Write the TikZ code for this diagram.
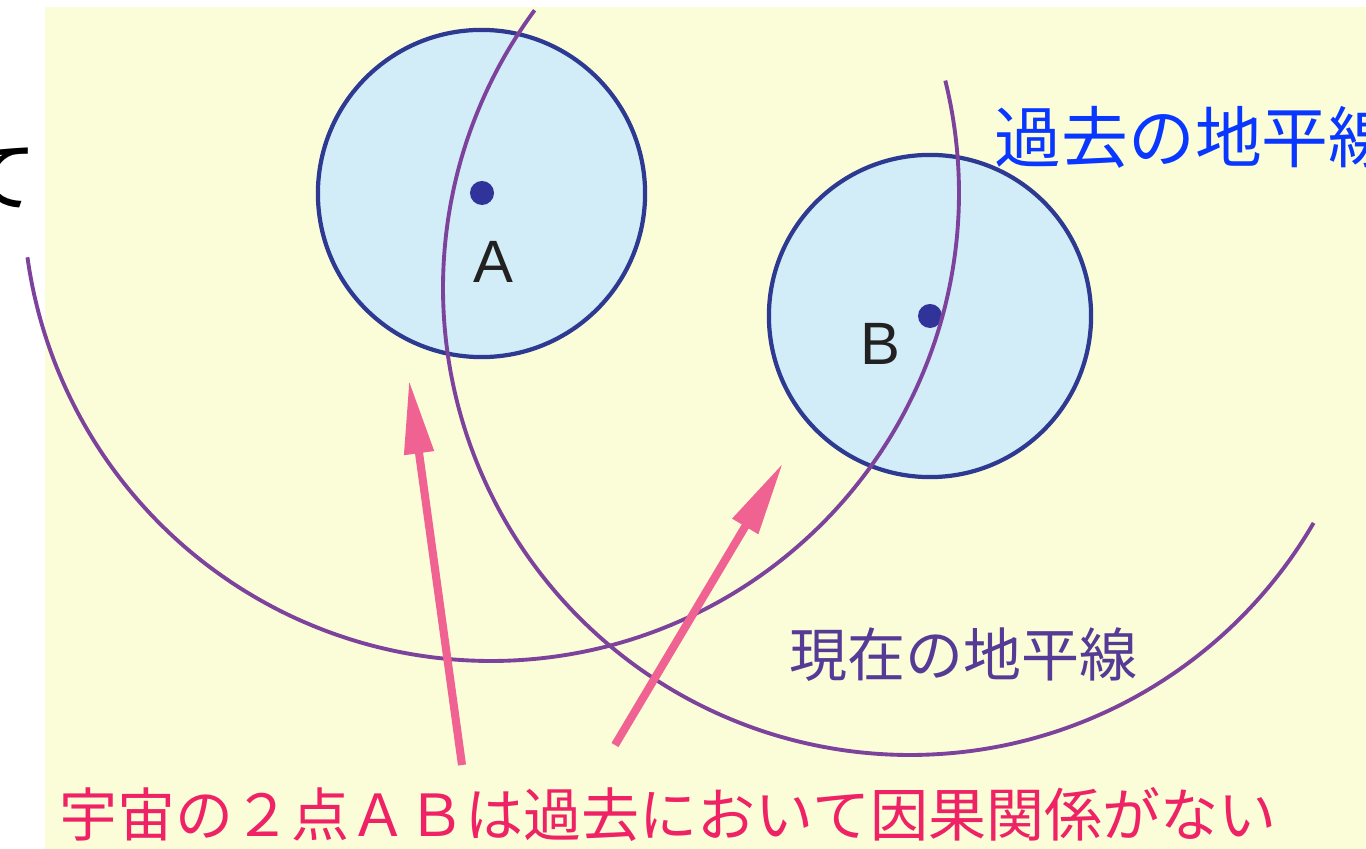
\documentclass[tikz,border=0pt]{standalone}
\usepackage{fontspec}
\setmainfont{Liberation Sans}
\newfontfamily\jfont{Noto Sans CJK JP}
\usetikzlibrary{arrows.meta}
\definecolor{bgyellow}{HTML}{FAFDD8}
\definecolor{cfill}{HTML}{D2ECF8}
\definecolor{cstroke}{HTML}{2E3A91}
\definecolor{dotblue}{HTML}{30349A}
\definecolor{arcpurple}{HTML}{7D429B}
\definecolor{arrowpink}{HTML}{F06291}
\definecolor{pastblue}{HTML}{0A37FF}
\definecolor{nowpurple}{HTML}{553A96}
\definecolor{msgred}{HTML}{EE2264}
\tikzset{
  region/.style={draw=cstroke, fill=cfill, line width=1.2pt},
  horizon/.style={draw=arcpurple, line width=1.1pt},
  pdot/.style={circle, fill=dotblue, inner sep=0pt, minimum size=0.24cm},
  plabel/.style={inner sep=0pt, text=black!87, font=\fontsize{17}{20}\selectfont},
  causal/.style={draw=arrowpink, line width=2.3pt, -{Triangle[length=21pt,width=8pt]}},
  jtext/.style={inner sep=0pt, font=\jfont\fontsize{16.5}{20}\selectfont}
}
\begin{document}
\begin{tikzpicture}[x=0.01cm, y=-0.01cm]
\useasboundingbox (0,0) rectangle (1366,849);
\fill[bgyellow] (45,7) rectangle (1366,849);
% partial character at the left edge
\node[inner sep=0pt, anchor=east, font=\jfont\fontsize{22.5}{26}\selectfont] (cut) at (38,178) {て};
% light cones
\draw[region] (481.5,193.5) circle[radius=1.635cm];
\draw[region] (930,316) circle[radius=1.61cm];
\node[pdot] (dotA) at (482,193) {};
\node[pdot] (dotB) at (930,316) {};
\node[plabel] (labA) at (493,262) {A};
\node[plabel] (labB) at (880,344) {B};
% horizons
\draw[horizon] plot[domain=187.9:373.9, samples=200, smooth] ({491+468*cos(\x)}, {193-468*sin(\x)});
\draw[horizon] plot[domain=143.5:329.8, samples=200, smooth] ({910+467*cos(\x)}, {288-467*sin(\x)});
% arrows
\coordinate (t1) at (462,765);
\coordinate (h1) at (409,380);
\coordinate (t2) at (615,745);
\coordinate (h2) at (783,463);
\draw[causal] (t1) -- (h1);
\draw[causal] (t2) -- (h2);
% texts
\node[jtext, anchor=west, text=pastblue, font=\jfont\fontsize{19}{22}\selectfont] (past) at (994,137.5) {過去の地平線};
\node[jtext, anchor=west, text=nowpurple] (now) at (789,655) {現在の地平線};
\node[jtext, anchor=west, text=msgred] (msg) at (59,815) {宇宙の２点ＡＢは過去において因果関係がない};
\end{tikzpicture}
\end{document}
